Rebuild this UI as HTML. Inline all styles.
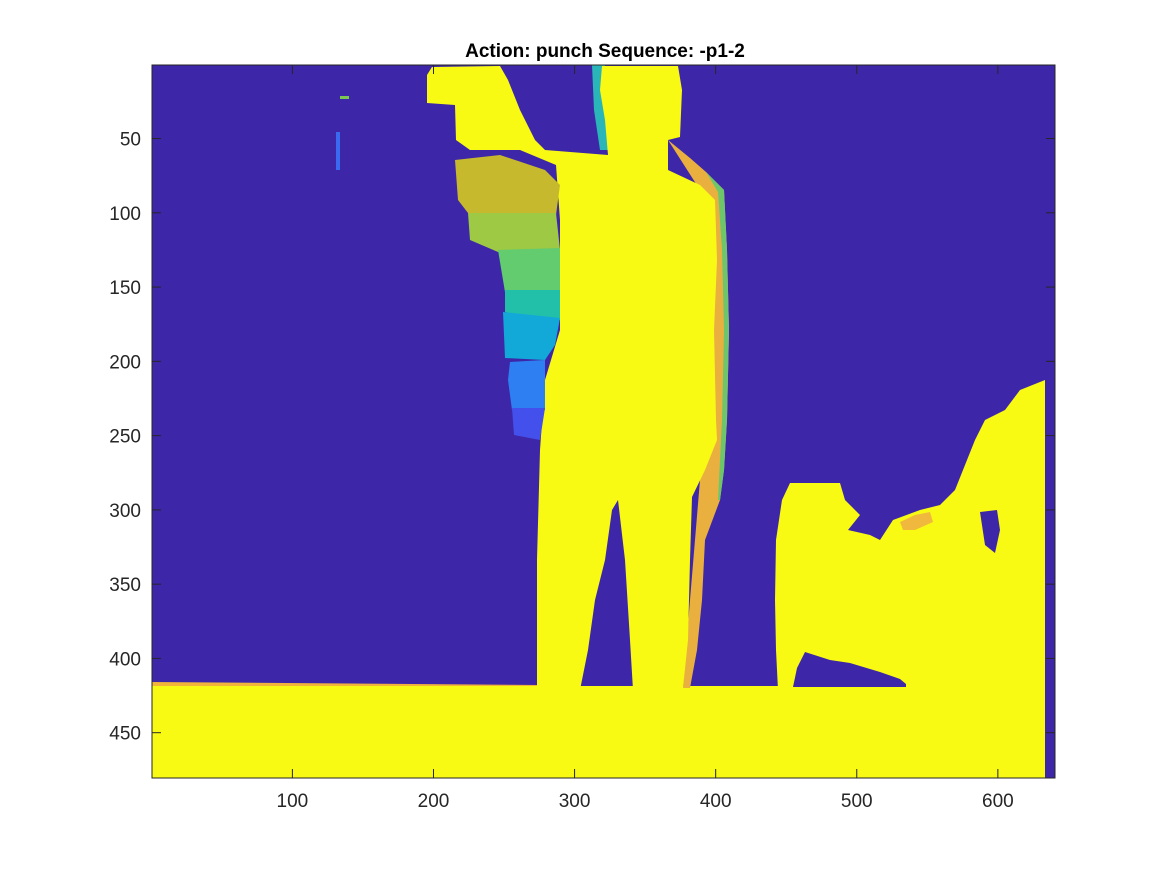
<!DOCTYPE html>
<html><head><meta charset="utf-8"><style>
html,body{margin:0;padding:0;background:#fff;}
svg{display:block;font-family:"Liberation Sans",Arial,sans-serif;}
</style></head><body>
<svg id="chart" width="1167" height="875" viewBox="0 0 1167 875">
<rect x="0" y="0" width="1167" height="875" fill="#fff"/>
<text x="605" y="57" text-anchor="middle" font-size="19" font-weight="bold" fill="#000">Action: punch Sequence: -p1-2</text>
<g>
<rect x="152" y="65" width="903" height="713" fill="#3d27a8"/>
<polygon fill="#f2b43a" points="152,682 540,685 540,692 152,692"/>
<rect x="152" y="686" width="893" height="92" fill="#f9fa14"/>
<polygon fill="#f9fa14" points="1045,380 1020,390 1005,410 985,420 975,440 965,465 955,490 940,505 920,510 893,520 880,540 870,535 848,530 860,515 845,500 840,483 790,483 782,500 776,540 775,600 776,650 778,690 1045,690"/>
<polygon fill="#3d27a8" points="980,512 997,510 1000,530 995,553 985,545"/>
<polygon fill="#3d27a8" points="793,687 797,668 805,652 830,660 850,663 880,672 900,679 906,684 906,687"/>
<polygon fill="#f0b83c" points="900,522 915,515 930,512 933,522 915,530 903,530"/>
<polygon fill="#e9b040" points="668,140 690,158 706,172 724,190 727,250 729,330 727,420 724,470 720,500 705,540 702,600 697,650 690,688 683,688 690,600 700,480 712,330 710,250 700,190"/>
<polygon fill="#6ec66a" points="706,172 724,190 727,250 729,330 727,420 724,470 720,500 718,500 722,420 724,330 722,250 718,192"/>
<polygon fill="#2ab5b8" points="592,65 605,65 610,150 600,150 594,110"/>
<polygon fill="#f9fa14" points="427,75 432,67 500,66 508,80 520,110 535,140 545,150 608,155 605,120 600,90 602,66 678,66 682,90 680,137 668,140 668,170 700,185 715,200 717,260 714,330 716,420 717,440 705,470 692,497 690,560 688,640 683,688 633,690 630,640 625,560 618,500 612,510 605,560 595,600 588,650 580,690 537,690 537,560 540,450 545,380 560,330 560,220 556,165 520,150 470,150 456,140 455,105 427,103"/>
<polygon fill="#c7b92d" points="455,160 500,155 545,170 560,185 556,215 468,213 458,200"/>
<polygon fill="#9dc944" points="468,213 556,213 560,250 498,252 470,240"/>
<polygon fill="#62cc6e" points="498,250 560,248 560,290 505,292"/>
<polygon fill="#22c0a8" points="505,290 560,290 560,320 540,322 505,312"/>
<polygon fill="#12a8d8" points="503,312 560,318 555,345 545,360 505,358"/>
<polygon fill="#2e80f2" points="510,362 545,360 545,410 512,410 508,380"/>
<polygon fill="#4350ec" points="512,408 545,408 540,440 514,435"/>
<rect x="336" y="132" width="4" height="38" fill="#3a6af0"/>
<rect x="340" y="96" width="9" height="3" fill="#7ac850"/>
<rect x="1045" y="380" width="10" height="398" fill="#3d27a8"/>
</g>
<rect x="152" y="65" width="903" height="713" fill="none" stroke="#262626" stroke-width="1"/>
<g id="ticks"></g>
<script>
const xTicks = [100, 200, 300, 400, 500, 600];
const yTicks = [50, 100, 150, 200, 250, 300, 350, 400, 450];
const xDomain = [0.5, 640.5];
const yDomain = [0.5, 480.5];
const L = 152, R = 1055, T = 65, B = 778;
function sx(v){ return L + (v - xDomain[0]) / (xDomain[1] - xDomain[0]) * (R - L); }
function sy(v){ return T + (v - yDomain[0]) / (yDomain[1] - yDomain[0]) * (B - T); }
const NS = "http://www.w3.org/2000/svg";
const g = document.getElementById('ticks');
xTicks.forEach(function(v){
  const x = sx(v);
  [[B, B - 9], [T, T + 9]].forEach(function(p){
    const l = document.createElementNS(NS, 'line');
    l.setAttribute('x1', x); l.setAttribute('x2', x);
    l.setAttribute('y1', p[0]); l.setAttribute('y2', p[1]);
    l.setAttribute('stroke', '#262626');
    
    
    g.appendChild(l);
  });
  const t = document.createElementNS(NS, 'text');
  t.setAttribute('x', x); t.setAttribute('y', B + 29);
  t.setAttribute('text-anchor', 'middle'); t.setAttribute('font-size', '19');
  t.setAttribute('fill', '#262626');
  t.textContent = v;
  
  
  g.appendChild(t);
});
yTicks.forEach(function(v){
  const y = sy(v);
  [[L, L + 9], [R, R - 9]].forEach(function(p){
    const l = document.createElementNS(NS, 'line');
    l.setAttribute('y1', y); l.setAttribute('y2', y);
    l.setAttribute('x1', p[0]); l.setAttribute('x2', p[1]);
    l.setAttribute('stroke', '#262626');
    
    
    g.appendChild(l);
  });
  const t = document.createElementNS(NS, 'text');
  t.setAttribute('x', L - 11); t.setAttribute('y', y + 7);
  t.setAttribute('text-anchor', 'end'); t.setAttribute('font-size', '19');
  t.setAttribute('fill', '#262626');
  t.textContent = v;
  
  
  g.appendChild(t);
});
</script>
</svg>
</body></html>
